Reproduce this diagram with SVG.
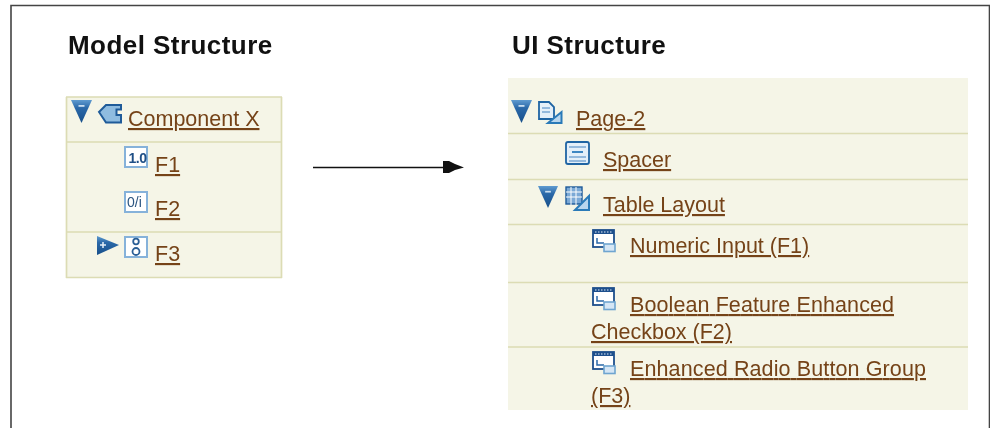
<svg xmlns="http://www.w3.org/2000/svg" width="990" height="428" viewBox="0 0 990 428">
<defs>
<style>
.h{font:bold 26px "Liberation Sans",Arial,sans-serif;letter-spacing:.45px;fill:#111;filter:blur(.35px)}
.l{font:21.5px "Liberation Sans",Arial,sans-serif;fill:#754318;text-decoration:underline;filter:blur(.4px)}
.r{stroke:#dcdcb4;stroke-width:1.700;fill:none}
.p{fill:#f5f5e7}
.ic{filter:blur(.35px)}
.i{fill:#fff;stroke:#86b2da;stroke-width:2}
.d{fill:url(#blue)}
.s{fill:none;stroke:#2b5f96;stroke-width:1.8}
.g{fill:#e4eff9;stroke:#1f64a3;stroke-width:1.8}
.t{fill:#b9d6ee;stroke:#2a7ab8;stroke-width:2}
</style>
<linearGradient id="blue" x1="0" y1="0" x2="0" y2="1"><stop offset="0" stop-color="#5f9bd0"/><stop offset=".35" stop-color="#2a68a8"/><stop offset="1" stop-color="#174f8a"/></linearGradient>
<symbol id="down" viewBox="0 0 22 24" overflow="visible"><path class="d" d="M0 0H21L10.500 23Z"/><rect x="7.500" y="5" width="6" height="1.800" fill="#c9def0"/></symbol>
<symbol id="compo" viewBox="0 0 24 24" overflow="visible"><rect x="1" y="1" width="21" height="17" fill="#fff" stroke="#1d4f8c" stroke-width="1.800"/><rect x="1" y="1" width="21" height="4" fill="#1d4f8c"/><path d="M3 3H20" stroke="#dfe9f5" stroke-width="1.200" stroke-dasharray="1.500 1.500"/><path d="M5 9V14H12" fill="none" stroke="#2a68a8" stroke-width="1.500"/><rect x="12" y="15" width="11" height="7.500" fill="#d5e6f5" stroke="#6fa5d0" stroke-width="1.600"/></symbol>
</defs>
<rect width="990" height="428" fill="#fff"/>
<path d="M11 428V5.500H989.500V428" fill="none" stroke="#444" stroke-width="1.600"/>
<text class="h" x="68" y="54">Model Structure</text>
<text class="h" x="512" y="54">UI Structure</text>
<g id="model-panel">
<rect class="p" x="66" y="97" width="216" height="181"/>
<path class="r" d="M66 97H282M66 142H282M66 232H282M66 277.500H282M66.500 97V278M281.500 97V278"/>
</g>
<g id="component-x"><g class="ic"><use href="#down" x="71" y="100" width="22" height="24"/>
<path d="M99 112L106 105H121V109.500H116.500V115H121V122.500H106Z" fill="#8fbce0" stroke="#1f5b99" stroke-width="2"/></g>
<text class="l" x="128" y="126">Component X</text></g>
<g id="f1"><rect class="i ic" x="125" y="147" width="22" height="20"/><text class="ic" x="128.500" y="162.500" font-family="Liberation Sans,sans-serif" font-size="14" font-weight="bold" letter-spacing="-.5" fill="#1f4f86">1.0</text><text class="l" x="155" y="172">F1</text></g>
<g id="f2"><rect class="i ic" x="125" y="192" width="22" height="20"/><text class="ic" x="127" y="207" font-family="Liberation Sans,sans-serif" font-size="14" fill="#2b5580">0/i</text><text class="l" x="155" y="216">F2</text></g>
<g id="f3"><g class="ic"><path class="d" d="M97 236L119 245L97 255Z"/><path d="M100 245H106M103 242V248" stroke="#e5eff8" stroke-width="1.500"/><rect class="i" x="125" y="237" width="22" height="20"/><circle cx="136" cy="241.500" r="2.800" class="s"/><circle cx="136" cy="251.500" r="3.500" class="s"/></g><text class="l" x="155" y="261">F3</text></g>
<g id="connectors">
<path d="M313 167.500H445" stroke="#111" stroke-width="1.400" fill="none"/>
<path d="M443 161H449L455 164L464 167.500L455 170L449 173H443Z" fill="#111"/>
</g>
<g id="ui-panel">
<rect class="p" x="508" y="78" width="460" height="332"/>
<path class="r" d="M508 133.500H968M508 179.500H968M508 224.500H968M508 282.500H968M508 347H968"/>
</g>
<g id="page-2"><g class="ic"><use href="#down" x="511" y="100" width="22" height="24"/>
<path class="g" d="M539 102H549L554 107V119H539Z"/><path d="M542 108H550M542 112H550" stroke="#7aa8d4" stroke-width="1.500"/><path class="t" d="M561.500 112V123H548Z"/></g>
<text class="l" x="576" y="126">Page-2</text></g>
<g id="spacer"><g class="ic"><rect class="g" x="566" y="142" width="23" height="22" rx="2"/><path d="M569 147H586M569 157H586M569 161H586" stroke="#7aa8d4" stroke-width="1.500"/><path d="M572 152H583" stroke="#3d86c2" stroke-width="2"/></g><text class="l" x="603" y="167">Spacer</text></g>
<g id="table-layout"><g class="ic"><use href="#down" x="538" y="186" width="21" height="23"/>
<rect x="566" y="187" width="16" height="17" fill="#7ba9d6" stroke="#1f5b99" stroke-width="1.400"/><path d="M566 192H582M566 197H582M571 187V205M576 187V205" stroke="#fff"/><path class="t" d="M589 196V210H575Z"/></g>
<text class="l" x="603" y="212">Table Layout</text></g>
<g id="numeric-input"><use class="ic" href="#compo" x="592" y="229" width="24" height="24"/><text class="l" x="630" y="253">Numeric Input (F1)</text></g>
<g id="boolean-checkbox"><use class="ic" href="#compo" x="592" y="287" width="24" height="24"/><text class="l" x="630" y="312" textLength="264">Boolean Feature Enhanced</text><text class="l" x="591" y="339">Checkbox (F2)</text></g>
<g id="radio-group"><use class="ic" href="#compo" x="592" y="351" width="24" height="24"/><text class="l" x="630" y="376" textLength="296">Enhanced Radio Button Group</text><text class="l" x="591" y="403">(F3)</text></g>
</svg>
